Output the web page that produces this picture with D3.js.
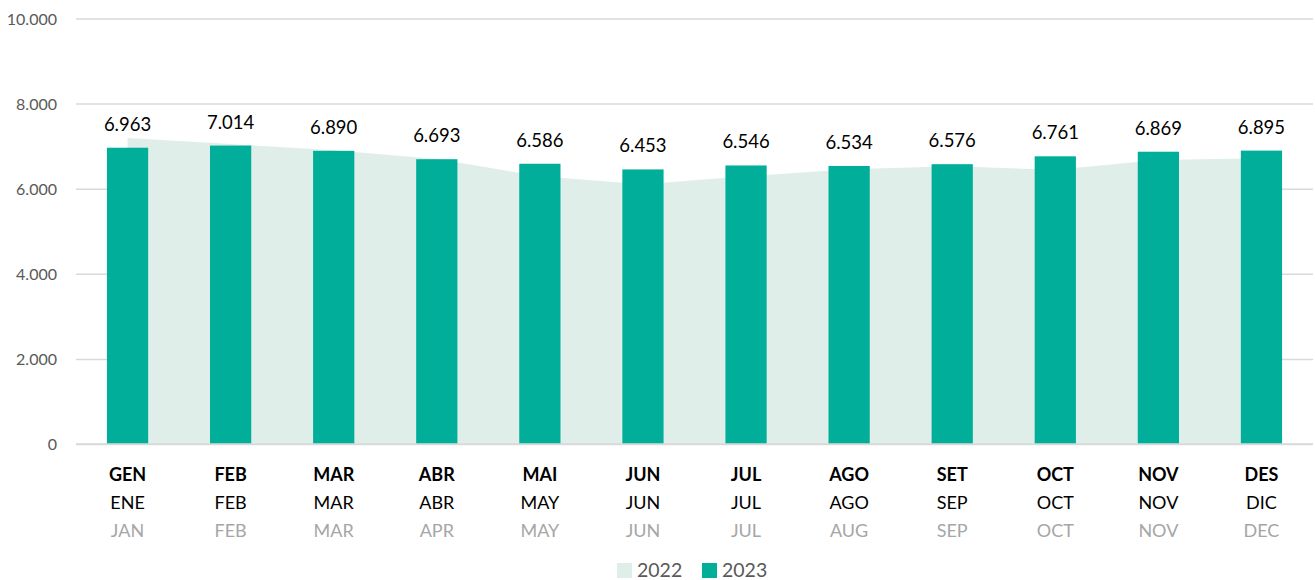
<!DOCTYPE html>
<html>
<head>
<meta charset="utf-8">
<script src="https://cdn.jsdelivr.net/npm/d3@7"></script>
<style>
  html, body { margin: 0; padding: 0; background: #fff; }
  svg { display: block; font-family: Lato, "Open Sans", sans-serif; }
</style>
</head>
<body>
<svg id="chart" width="1315" height="580"></svg>
<script>
// ---- Data ----
const catLine1 = ["GEN","FEB","MAR","ABR","MAI","JUN","JUL","AGO","SET","OCT","NOV","DES"];
const catLine2 = ["ENE","FEB","MAR","ABR","MAY","JUN","JUL","AGO","SEP","OCT","NOV","DIC"];
const catLine3 = ["JAN","FEB","MAR","APR","MAY","JUN","JUL","AUG","SEP","OCT","NOV","DEC"];
const values2022 = [7190, 7050, 6905, 6700, 6290, 6105, 6290, 6455, 6525, 6445, 6675, 6715];
const values2023 = [6963, 7014, 6890, 6693, 6586, 6453, 6546, 6534, 6576, 6761, 6869, 6895];
const yTicks = [0, 2000, 4000, 6000, 8000, 10000];
const seriesNames = ["2022", "2023"];

(function () {
const fmt = v => d3.format(",")(v).replace(/,/g, ".");

const svg = d3.select("#chart");
const mLeft = 76, mRight = 1313, mTop = 18.5, mBottom = 444;

const x = d3.scaleBand().domain(d3.range(catLine1.length))
  .range([mLeft, mRight]).paddingInner(0.6).paddingOuter(0.3);
const y = d3.scaleLinear().domain([0, 10000]).range([mBottom, mTop]);

const colBar = "#00AE9A", colArea = "#DFEEE9";

// gridlines
const yAxis = d3.axisLeft(y).tickValues(yTicks).tickSize(-(mRight - mLeft)).tickFormat(fmt);
const gy = svg.append("g").attr("transform", `translate(${mLeft},0)`).call(yAxis);
gy.select(".domain").remove();
gy.selectAll(".tick line").attr("stroke", "#d9d9d9").attr("stroke-width", 1.5);
gy.selectAll(".tick text").attr("x", -19).attr("fill", "#595959")
  .attr("font-size", 16).attr("font-family", "Lato, sans-serif").attr("dy", "0.35em");

// area 2022
const area = d3.area()
  .x((d, i) => x(i) + x.bandwidth() / 2)
  .y0(y(0)).y1(d => y(d));
svg.append("path").datum(values2022).attr("d", area).attr("fill", colArea);

// bars 2023
svg.append("g").selectAll("rect").data(values2023).join("rect")
  .attr("x", (d, i) => x(i)).attr("width", x.bandwidth())
  .attr("y", d => y(d)).attr("height", d => y(0) - y(d))
  .attr("fill", colBar);

// baseline over area
svg.append("line").attr("x1", mLeft).attr("x2", mRight)
  .attr("y1", y(0)).attr("y2", y(0)).attr("stroke", "#d9d9d9").attr("stroke-width", 1.5);

// value labels
svg.append("g").selectAll("text").data(values2023).join("text")
  .attr("x", (d, i) => x(i) + x.bandwidth() / 2)
  .attr("y", d => y(d) - 17)
  .attr("text-anchor", "middle").attr("font-size", 18.5).attr("fill", "#000")
  .text(d => fmt(d));

// x-axis labels (3 lines)
const gx = svg.append("g");
const lines = [
  {arr: catLine1, dy: 481, weight: "bold", fill: "#000"},
  {arr: catLine2, dy: 509, weight: "normal", fill: "#000"},
  {arr: catLine3, dy: 537, weight: "normal", fill: "#A6A6A6"}
];
lines.forEach(L => {
  gx.append("g").selectAll("text").data(L.arr).join("text")
    .attr("x", (d, i) => x(i) + x.bandwidth() / 2)
    .attr("y", L.dy)
    .attr("text-anchor", "middle").attr("font-size", 18)
    .attr("font-weight", L.weight).attr("fill", L.fill)
    .text(d => d);
});

// legend
const legend = svg.append("g");
const legItems = [{name: seriesNames[0], color: colArea, x: 617}, {name: seriesNames[1], color: colBar, x: 702}];
legItems.forEach(it => {
  legend.append("rect").attr("x", it.x).attr("y", 563).attr("width", 15).attr("height", 15).attr("fill", it.color);
  legend.append("text").attr("x", it.x + 20).attr("y", 576.5).attr("font-size", 19.5)
    .attr("fill", "#595959").text(it.name);
});
})();
</script>
</body>
</html>
